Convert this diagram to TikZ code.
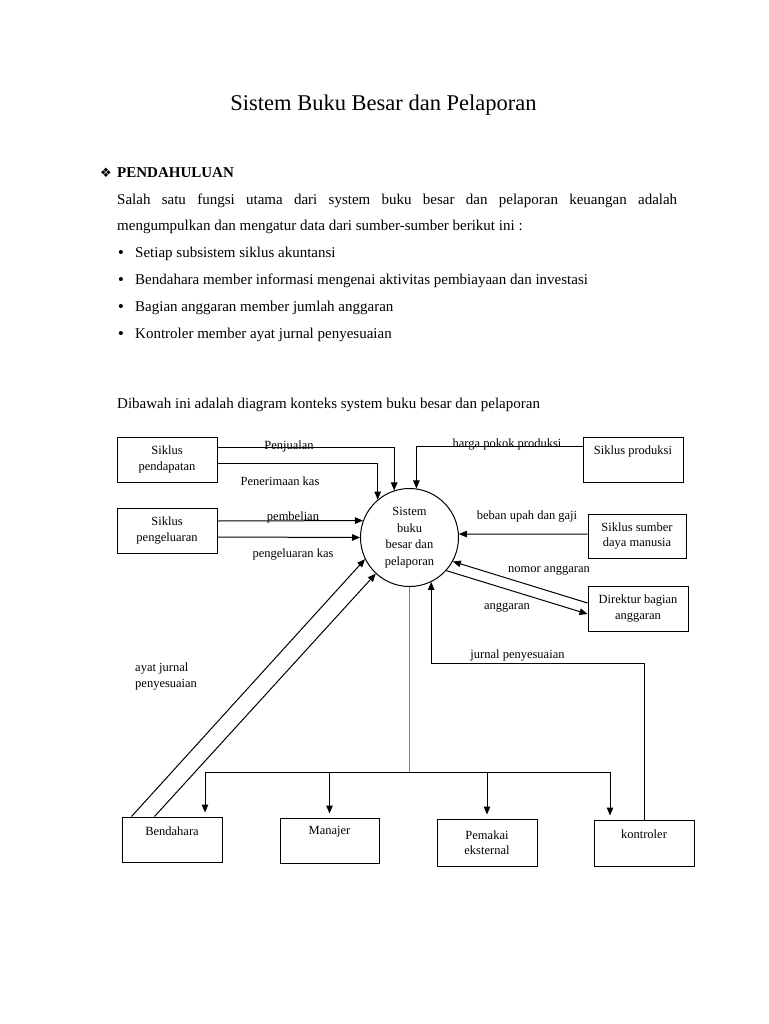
\documentclass[tikz,border=0pt]{standalone}
\usepackage{fontspec}
\setmainfont{Liberation Serif}
\newfontfamily\symfont{DejaVu Sans}
\usetikzlibrary{arrows.meta,positioning}

\begin{document}
\begin{tikzpicture}[x=1pt, y=-1pt,
        box/.style={draw, line width=1pt, minimum width=100pt, minimum height=45pt, align=center, inner sep=2pt, font=\fontsize{12.5}{15.5}\selectfont},
        raised/.style={text height=9pt, text depth=#1},
        proc/.style={draw, circle, line width=1pt, minimum size=98pt, inner sep=0pt, align=center, font=\fontsize{12.5}{16.5}\selectfont},
        flow/.style={draw, line width=1pt},
        arrow/.style={flow, -{Triangle[length=8pt, width=6.5pt]}},
        lbl/.style={inner sep=0pt, anchor=base, font=\fontsize{12.5}{16}\selectfont},
        txt/.style={inner sep=0pt, anchor=base west, font=\fontsize{15}{25}\selectfont}
    ]

    \useasboundingbox (0,0) rectangle (768,1024);
    \fill[white] (0,0) rectangle (768,1024);

    % heading and introduction
    \node[inner sep=0pt, anchor=base, font=\fontsize{22.5}{27}\selectfont] (title) at (383.5,111) {Sistem Buku Besar dan Pelaporan};
    \node[inner sep=0pt, font=\symfont\fontsize{13}{14}\selectfont] (mark) at (106,173) {❖};
    \node[txt, font=\bfseries\fontsize{15}{25}\selectfont] (head) at (117,178) {PENDAHULUAN};
    \node[txt, text width=560pt, align=justify] (intro) at (117,205) {Salah satu fungsi utama dari system buku besar dan pelaporan keuangan adalah\linebreak mengumpulkan dan mengatur data dari sumber-sumber berikut ini :};
    \foreach \y/\t [count=\i] in {257/Setiap subsistem siklus akuntansi, 284/Bendahara member informasi mengenai aktivitas pembiayaan dan investasi, 311/Bagian anggaran member jumlah anggaran, 338/Kontroler member ayat jurnal penyesuaian} {
        \node[inner sep=0pt, anchor=base, font=\bfseries\fontsize{15}{25}\selectfont] (dot\i) at (121,\y) {\textbullet};
        \node[txt] (item\i) at (135,\y) {\t};
    }
    \node[txt] (lead) at (117,408) {Dibawah ini adalah diagram konteks system buku besar dan pelaporan};

    % entities and process
    \node[box] (pend) at (167,459.5) {Siklus\\pendapatan};
    \node[box] (peng) at (167,530.5) {Siklus\\pengeluaran};
    \node[box, raised=20pt] (prod) at (633,459.5) {Siklus produksi};
    \node[box, minimum width=98pt, minimum height=44pt] (sdm) at (637,536) {Siklus sumber\\daya manusia};
    \node[box] (dir) at (638,608.5) {Direktur bagian\\anggaran};
    \node[proc] (sys) at (409.5,537.5) {Sistem\\buku\\besar dan\\pelaporan};
    \node[box, raised=17pt] (bend) at (172,839.5) {Bendahara};
    \node[box, minimum width=99pt, raised=22pt] (manj) at (329.5,840.5) {Manajer};
    \node[box, minimum height=47pt] (pem) at (487,842.5) {Pemakai\\eksternal};
    \node[box, minimum height=46pt, raised=19pt] (kont) at (644,843) {kontroler};

    % flows into the process
    \draw[arrow] ([yshift=12.5pt]pend.east) -| (sys.108);
    \draw[arrow] ([yshift=-3.5pt]pend.east) -| (sys.130);
    \draw[arrow] ([yshift=9.5pt]peng.east) -- (sys.160);
    \draw[arrow] ([yshift=-6.5pt]peng.east) -- (sys.180);
    \draw[arrow] ([yshift=13.5pt]prod.west) -| (sys.82);
    \draw[arrow] ([yshift=2pt]sdm.west) -- (sys.4);
    \draw[arrow] ([yshift=5.5pt]dir.west) -- (sys.-29);
    \draw[arrow] (sys.-42) -- ([yshift=-5.5pt]dir.west);
    \draw[arrow] ([xshift=10pt]bend.north west) -- (sys.206);
    \draw[arrow] ([xshift=33pt]bend.north west) -- (sys.227);

    \coordinate (jpline) at (0,663);
    \draw[arrow] (kont.north) -- (kont.north |- jpline) -| (sys.-64);

    % reports to the users
    \coordinate (bus) at (409.5,772);
    \coordinate (busL) at (205,772);
    \coordinate (busR) at (610,772);
    \draw[gray, line width=0.7pt] (sys.south) -- (bus);
    \draw[flow] (busL) -- (busR);
    \draw[arrow, shorten >=4pt] (busL) -- (busL |- bend.north);
    \draw[arrow, shorten >=4pt] (manj.north |- bus) -- (manj.north);
    \draw[arrow, shorten >=4pt] (pem.north |- bus) -- (pem.north);
    \draw[arrow, shorten >=4pt] (busR) -- (busR |- kont.north);

    % flow labels
    \node[lbl] (lPenjualan) at (289,449) {Penjualan};
    \node[lbl] (lPenerimaan) at (280,485) {Penerimaan kas};
    \node[lbl] (lPembelian) at (293,520) {pembelian};
    \node[lbl] (lPengeluaran) at (293,557) {pengeluaran kas};
    \node[lbl] (lHarga) at (507,447) {harga pokok produksi};
    \node[lbl] (lBeban) at (527,519) {beban upah dan gaji};
    \node[lbl] (lNomor) at (549,572) {nomor anggaran};
    \node[lbl] (lAnggaran) at (507,609) {anggaran};
    \node[lbl] (lJurnal) at (517.5,658) {jurnal penyesuaian};
    \node[lbl, anchor=base west, align=left] (lAyat) at (135,687) {ayat jurnal\\penyesuaian};

\end{tikzpicture}
\end{document}
